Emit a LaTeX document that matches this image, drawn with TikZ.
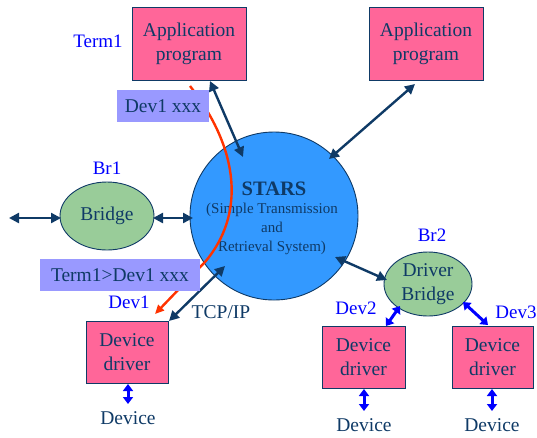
\documentclass[tikz,border=0pt]{standalone}
\usepackage{fontspec}
\setmainfont{Liberation Serif}
\usetikzlibrary{arrows.meta,shapes.geometric}
\definecolor{navy}{HTML}{0F3A66}
\definecolor{boxpink}{HTML}{FF6699}
\definecolor{starblue}{HTML}{3399FF}
\definecolor{bridgegreen}{HTML}{99CC99}
\definecolor{msgviolet}{HTML}{9999FF}
\definecolor{pathred}{HTML}{FF3300}
\definecolor{labelblue}{HTML}{0000FF}
\tikzset{
  x=1pt, y=-1pt,
  bigtext/.style={font=\fontsize{19.5}{24}\selectfont, text=navy},
  pinkbox/.style={draw=navy, line width=0.9pt, fill=boxpink, bigtext, align=center, inner sep=0pt},
  msgbox/.style={fill=msgviolet, bigtext, inner sep=0pt},
  bridgeshape/.style={ellipse, draw=navy, line width=0.9pt, fill=bridgegreen, bigtext, align=center, inner sep=0pt},
  tag/.style={font=\fontsize{19}{21}\selectfont, text=labelblue, inner sep=0pt},
  link/.style={draw=navy, line width=2.4pt, {Triangle[length=10pt,width=10pt]}-{Triangle[length=10pt,width=10pt]}},
  devlink/.style={draw=labelblue, line width=3pt, {Triangle[length=7pt,width=10pt]}-{Triangle[length=7pt,width=10pt]}},
  redpath/.style={draw=pathred, line width=2.4pt, -{Triangle[length=9pt,width=8pt]}},
}
\begin{document}
\begin{tikzpicture}
\useasboundingbox (0,0) rectangle (537,437);

% the STARS hub
\node[circle, draw=navy, line width=0.9pt, fill=starblue, minimum size=168pt, inner sep=0pt] (stars) at (274,216) {};
\node[font=\fontsize{20.5}{22}\selectfont\bfseries, text=navy, inner sep=0pt] (starsname) at (274,189) {STARS};
\node[font=\fontsize{15}{19}\selectfont, text=navy, align=center, inner sep=0pt] (starsfull) at (272,229)
  {(Simple Transmission\\and\\Retrieval System)};

% application programs
\node[pinkbox, minimum width=114pt, minimum height=73pt] (app1) at (189,43.5) {Application\\program};
\node[pinkbox, minimum width=114pt, minimum height=73pt] (app2) at (426,43.5) {Application\\program};
\node[tag] (term1) at (98,41) {Term1};

% bridges
\node[bridgeshape, minimum width=94pt, minimum height=68pt] (bridge) at (107,216) {Bridge};
\node[tag] (br1) at (107,168) {Br1};
\node[bridgeshape, minimum width=88pt, minimum height=64pt] (drvbridge) at (428,284) {Driver\\Bridge};
\node[tag] (br2) at (432,235) {Br2};

% device drivers
\node[pinkbox, minimum width=82pt, minimum height=62pt] (dd1) at (127,352) {Device\\driver};
\node[pinkbox, minimum width=83pt, minimum height=62pt] (dd2) at (363.5,357) {Device\\driver};
\node[pinkbox, minimum width=81pt, minimum height=62pt] (dd3) at (492.5,357) {Device\\driver};
\node[tag] (dev1) at (129,302) {Dev1};
\node[tag] (dev2) at (356,308) {Dev2};
\node[tag] (dev3) at (516,312) {Dev3};
\node[bigtext, inner sep=0pt] (tcpip) at (221,312) {TCP/IP};

% devices
\node[bigtext, inner sep=0pt] (devA) at (128,418) {Device};
\node[bigtext, inner sep=0pt] (devB) at (364,425) {Device};
\node[bigtext, inner sep=0pt] (devC) at (492,425) {Device};

% connector end points
\coordinate (a1) at (210,81);
\coordinate (s1) at (243,157);
\coordinate (a2) at (415,84);
\coordinate (s2) at (329,159);
\coordinate (far) at (9,218);
\coordinate (bl) at (61,218);
\coordinate (br) at (153,218);
\coordinate (s3) at (193,218);
\coordinate (s4) at (335,257);
\coordinate (b2) at (387,280);
\coordinate (d1) at (169,321);
\coordinate (s5) at (225,266);
\coordinate (t2) at (386,326);
\coordinate (b3) at (400,306);
\coordinate (b4) at (463,302);
\coordinate (t3) at (488,325);
\coordinate (u1) at (128,384);
\coordinate (v1) at (128,404);
\coordinate (u2) at (364,389);
\coordinate (v2) at (364,411);
\coordinate (u3) at (492,389);
\coordinate (v3) at (492,411);

% links
\draw[link] (a1) -- (s1);
\draw[link] (a2) -- (s2);
\draw[link] (far) -- (bl);
\draw[link] (br) -- (s3);
\draw[link] (s4) -- (b2);
\draw[link] (d1) -- (s5);
\draw[devlink] (t2) -- (b3);
\draw[devlink] (b4) -- (t3);
\draw[devlink] (u1) -- (v1);
\draw[devlink] (u2) -- (v2);
\draw[devlink] (u3) -- (v3);

% message route from Term1 to Dev1
\coordinate (r0) at (190,86);
\coordinate (r1) at (155,314);
\draw[redpath] (r0) .. controls (240,150) and (245,215) .. (205,262) -- (r1);

% messages
\node[msgbox, minimum width=92pt, minimum height=32pt] (msg1) at (163,106) {Dev1 xxx};
\node[msgbox, minimum width=160pt, minimum height=32pt] (msg2) at (120,275) {Term1>Dev1 xxx};
\end{tikzpicture}
\end{document}
